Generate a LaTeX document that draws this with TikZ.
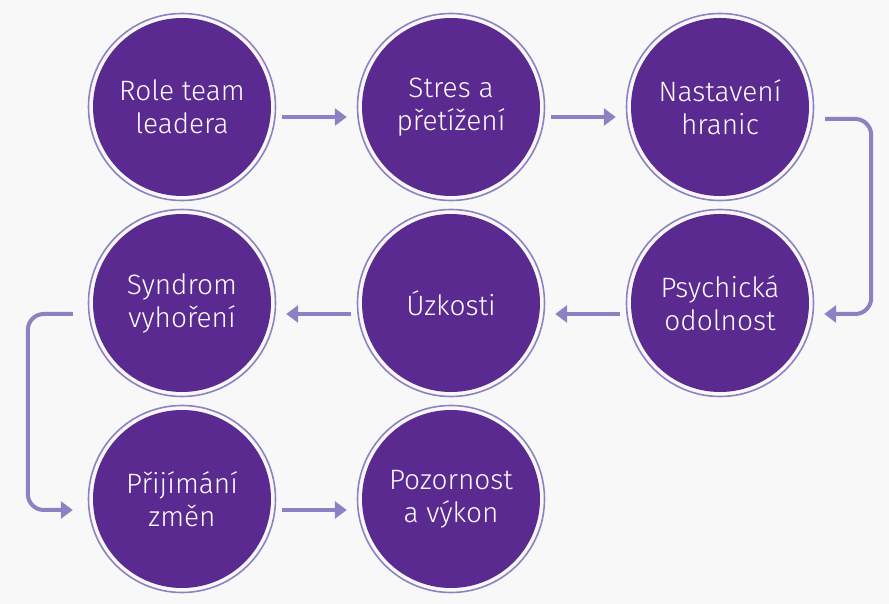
\documentclass[tikz,border=0pt]{standalone}
\usepackage{fontspec}
\setmainfont{Fira Sans Light}
\usetikzlibrary{arrows.meta}

\definecolor{bgcol}{HTML}{F9F8F8}
\definecolor{stagefill}{HTML}{5A2A91}
\definecolor{ringcol}{HTML}{8C82C3}

\tikzset{every picture/.append style={x=1pt,y=1pt}}
\tikzset{
  stage/.style={circle, fill=stagefill, text=white, minimum size=178pt,
    inner sep=0pt, align=center, font=\fontsize{28}{33}\selectfont},
  ring/.style={draw=ringcol, line width=1.6pt},
  flow/.style={draw=ringcol, line width=4pt, rounded corners=16pt,
    -{Triangle[length=12pt,width=17pt]}}
}

\begin{document}
\begin{tikzpicture}
  \fill[bgcol] (0,0) rectangle (889,604);
  \useasboundingbox (0,0) rectangle (889,604);

  % first row
  \node[stage] (role) at(182,497) {Role team\\leadera};
  \node[stage] (stres) at(451,497) {Stres a\\přetížení};
  \node[stage] (hranice) at(720,497) {Nastavení\\hranic};
  % second row
  \node[stage] (syndrom) at(182,301) {Syndrom\\vyhoření};
  \node[stage] (uzkost) at(451,301) {Úzkosti};
  \node[stage] (odolnost) at(720,301) {Psychická\\odolnost};
  % third row
  \node[stage] (zmeny) at(182,105) {Přijímání\\změn};
  \node[stage] (vykon) at(451,105) {Pozornost\\a výkon};

  \foreach \n in {role,stres,hranice,syndrom,uzkost,odolnost,zmeny,vykon}
    \draw[ring] (\n.center) circle (93.5);

  \draw[flow] ([xshift=11pt,yshift=-10pt]role.east) -- ([xshift=-15pt,yshift=-10pt]stres.west);
  \draw[flow] ([xshift=11pt,yshift=-10pt]stres.east) -- ([xshift=-15pt,yshift=-10pt]hranice.west);
  \draw[flow] ([xshift=16pt,yshift=-12pt]hranice.east) -- ++(46,0) |- ([xshift=15pt,yshift=-11pt]odolnost.east);
  \draw[flow] ([xshift=-11pt,yshift=-11pt]odolnost.west) -- ([xshift=15pt,yshift=-11pt]uzkost.east);
  \draw[flow] ([xshift=-11pt,yshift=-11pt]uzkost.west) -- ([xshift=15pt,yshift=-11pt]syndrom.east);
  \draw[flow] ([xshift=-20pt,yshift=-11pt]syndrom.west) -- ++(-45,0) |- ([xshift=-20pt,yshift=-11pt]zmeny.west);
  \draw[flow] ([xshift=11pt,yshift=-11pt]zmeny.east) -- ([xshift=-15pt,yshift=-11pt]vykon.west);
\end{tikzpicture}
\end{document}
